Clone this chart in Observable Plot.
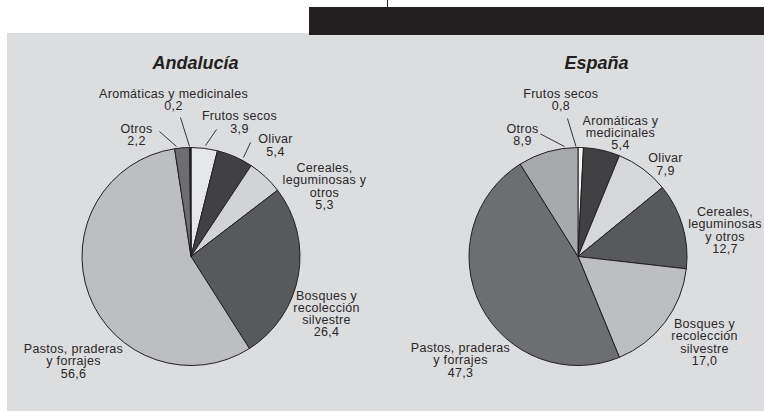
<!DOCTYPE html>
<html><head><meta charset="utf-8">
<script src="https://cdn.jsdelivr.net/npm/d3@7"></script>
<script src="https://cdn.jsdelivr.net/npm/@observablehq/plot@0.6"></script>
<style>
html,body{margin:0;padding:0;background:#fff;}
#wrap{position:relative;width:764px;height:411px;overflow:hidden;font-family:"Liberation Sans",Arial,sans-serif;}
#panel{position:absolute;left:7px;top:33px;width:757px;height:378px;background:#dcdddf;}
#bar{position:absolute;left:309px;top:7px;width:455px;height:28px;background:#231f20;}
#tick{position:absolute;left:386.5px;top:0;width:1px;height:7px;background:#231f20;}
#chart{position:absolute;left:0;top:0;}
#chart text.lbl, #chart g.lbl text{letter-spacing:0.3px;}
</style></head><body>
<div id="wrap"><div id="panel"></div><div id="bar"></div><div id="tick"></div><div id="chart"></div></div>
<script>
// ---- data ----
const regions = ["Andalucía", "España"];
const categoriesAndalucia = ["Frutos secos", "Olivar", "Cereales, leguminosas y otros", "Bosques y recolección silvestre", "Pastos, praderas y forrajes", "Otros", "Aromáticas y medicinales"];
const valuesAndalucia = [3.9, 5.4, 5.3, 26.4, 56.6, 2.2, 0.2];
const categoriesEspana = ["Frutos secos", "Aromáticas y medicinales", "Olivar", "Cereales, leguminosas y otros", "Bosques y recolección silvestre", "Pastos, praderas y forrajes", "Otros"];
const valuesEspana = [0.8, 5.4, 7.9, 12.7, 17.0, 47.3, 8.9];

// ---- layout & styles (not data) ----
const RADIUS = 109;
const layout = {
  "Andalucía": {
    center: [191, 256.5], title: [195, 63],
    colors: {"Frutos secos": "#e6e7e8", "Olivar": "#414042", "Cereales, leguminosas y otros": "#d1d3d4", "Bosques y recolección silvestre": "#58595b", "Pastos, praderas y forrajes": "#bcbec0", "Otros": "#6d6e71", "Aromáticas y medicinales": "#231f20"},
    labels: {
      "Frutos secos": {lines: ["Frutos secos"], at: [48, -134.5], leader: [25, -127.5, 14, -111.5]},
      "Olivar": {lines: ["Olivar"], at: [84, -111.5], leader: [59, -114.5, 52, -99.5]},
      "Cereales, leguminosas y otros": {lines: ["Cereales,", "leguminosas y", "otros"], at: [133, -70.5]},
      "Bosques y recolección silvestre": {lines: ["Bosques y", "recolección", "silvestre"], at: [135, 57]},
      "Pastos, praderas y forrajes": {lines: ["Pastos, praderas", "y forrajes"], at: [-118, 104.5]},
      "Otros": {lines: ["Otros"], at: [-55, -122], leader: [-32, -125.5, -15, -110.5]},
      "Aromáticas y medicinales": {lines: ["Aromáticas y medicinales"], at: [-18, -157], leader: [-11, -139.5, -2, -110.5]}
    }
  },
  "España": {
    center: [578, 256.5], title: [596, 63],
    colors: {"Frutos secos": "#f4f4f4", "Aromáticas y medicinales": "#414042", "Olivar": "#d6d7d9", "Cereales, leguminosas y otros": "#58595b", "Bosques y recolección silvestre": "#bcbec0", "Pastos, praderas y forrajes": "#6d6e71", "Otros": "#a7a9ac"},
    labels: {
      "Frutos secos": {lines: ["Frutos secos"], at: [-17.7, -157], leader: [-11, -138.5, -2.5, -110.5]},
      "Aromáticas y medicinales": {lines: ["Aromáticas y", "medicinales"], at: [42, -124]},
      "Olivar": {lines: ["Olivar"], at: [87, -92.5]},
      "Cereales, leguminosas y otros": {lines: ["Cereales,", "leguminosas", "y otros"], at: [146.5, -26.5]},
      "Bosques y recolección silvestre": {lines: ["Bosques y", "recolección", "silvestre"], at: [126, 85.5]},
      "Pastos, praderas y forrajes": {lines: ["Pastos, praderas", "y forrajes"], at: [-118, 103.5]},
      "Otros": {lines: ["Otros"], at: [-56, -122], leader: [-38, -123, -14, -110.5]}
    }
  }
};

const fmt = v => d3.format(".1f")(v).replace(".", ",");
const series = {
  "Andalucía": categoriesAndalucia.map((c, i) => ({region: "Andalucía", category: c, value: valuesAndalucia[i]})),
  "España": categoriesEspana.map((c, i) => ({region: "España", category: c, value: valuesEspana[i]}))
};
const rows = regions.flatMap(r => series[r]);

const labelRows = rows.map(d => {
  const L = layout[d.region], lab = L.labels[d.category];
  return {...d, x: L.center[0] + lab.at[0], y: L.center[1] + lab.at[1], text: lab.lines.join("\n") + "\n" + fmt(d.value)};
});
const leaderRows = rows.filter(d => layout[d.region].labels[d.category].leader).map(d => {
  const L = layout[d.region], ld = L.labels[d.category].leader;
  return {x1: L.center[0] + ld[0], y1: L.center[1] + ld[1], x2: L.center[0] + ld[2], y2: L.center[1] + ld[3]};
});
const titleRows = regions.map(r => ({region: r, x: layout[r].title[0], y: layout[r].title[1]}));

// pie mark: positions via Plot's x/y scales
const pieMark = region => (index, scales) => {
  const L = layout[region];
  const X = scales.x(L.center[0]), Y = scales.y(L.center[1]);
  const R = scales.x(L.center[0] + RADIUS) - X;
  const arcs = d3.pie().sort(null).value(d => d.value)(series[region]);
  const arc = d3.arc().innerRadius(0).outerRadius(R);
  const g = d3.create("svg:g").attr("transform", `translate(${X},${Y})`);
  g.selectAll("path").data(arcs).join("path")
    .attr("d", arc)
    .attr("fill", d => L.colors[d.data.category])
    .attr("stroke", "#231f20")
    .attr("stroke-width", 1)
    .attr("stroke-linejoin", "round");
  return g.node();
};

const chart = Plot.plot({
  width: 764, height: 411, margin: 0,
  x: {domain: [0, 764], range: [0, 764], axis: null},
  y: {domain: [0, 411], range: [0, 411], axis: null},
  style: {background: "transparent", overflow: "visible", fontFamily: "'Liberation Sans', Arial, sans-serif"},
  marks: [
    pieMark("Andalucía"),
    pieMark("España"),
    Plot.link(leaderRows, {x1: "x1", y1: "y1", x2: "x2", y2: "y2", stroke: "#231f20", strokeWidth: 0.9}),
    Plot.text(labelRows, {x: "x", y: "y", text: "text", fontSize: 12.5, lineHeight: 0.98, lineAnchor: "middle", textAnchor: "middle", fill: "#2a2728", className: "lbl"}),
    Plot.text(titleRows, {x: "x", y: "y", text: "region", fontSize: 18, fontWeight: "bold", fontStyle: "italic", textAnchor: "middle", fill: "#231f20"})
  ]
});
document.getElementById("chart").appendChild(chart);
</script>
</body></html>
